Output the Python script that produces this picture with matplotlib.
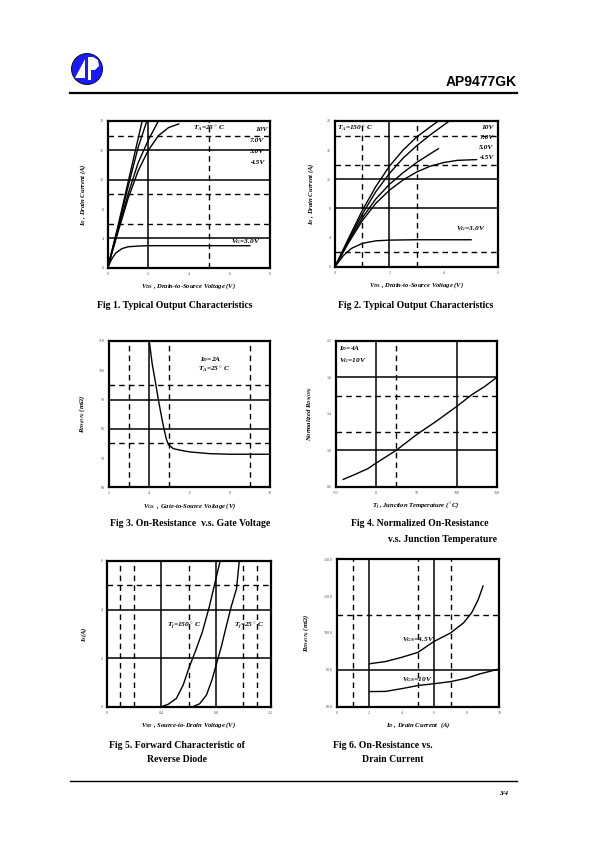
import numpy as np
import matplotlib.pyplot as plt
import matplotlib.patches as patches

plt.rcParams['font.family'] = 'Liberation Serif'
plt.rcParams['mathtext.fontset'] = 'custom'
plt.rcParams['mathtext.rm'] = 'Liberation Serif:bold:italic'
plt.rcParams['mathtext.it'] = 'Liberation Serif:bold:italic'
plt.rcParams['mathtext.bf'] = 'Liberation Serif:bold:italic'

# ---- data ----
# Fig 1, Tc=25C output characteristics
f1_vds_10 = [0, 0.5, 1.0, 1.5, 1.7]
f1_id_10 = [0, 5.6, 11.6, 17.6, 20]
f1_vds_7 = [0, 0.5, 1.0, 1.5, 1.93]
f1_id_7 = [0, 5.3, 11.0, 16.4, 20]
f1_vds_5 = [0, 0.5, 1.0, 1.5, 2.0, 2.5]
f1_id_5 = [0, 5.0, 10.0, 14.3, 17.4, 20]
f1_vds_45 = [0, 0.5, 1.0, 1.5, 2.0, 2.5, 3.0, 3.5]
f1_id_45 = [0, 4.8, 9.4, 13.2, 16.0, 18.0, 19.1, 19.6]
f1_vds_3 = [0, 0.2, 0.4, 0.7, 1.0, 1.5, 2.0, 4.0, 7.0]
f1_id_3 = [0, 1.2, 2.0, 2.6, 2.85, 2.95, 3.0, 3.0, 3.0]

# Fig 2, Tc=150C output characteristics
f2_vds_10 = [0, 0.5, 1.0, 1.5, 2.0, 2.5, 3.0, 3.5, 3.8]
f2_id_10 = [0, 3.9, 7.7, 11.0, 13.8, 16.0, 17.8, 19.2, 20]
f2_vds_7 = [0, 0.5, 1.0, 1.5, 2.0, 2.5, 3.0, 3.5, 4.2]
f2_id_7 = [0, 3.7, 7.2, 10.3, 12.8, 14.9, 16.6, 18.1, 20]
f2_vds_5 = [0, 0.5, 1.0, 1.5, 2.0, 2.5, 3.0, 3.5, 3.8]
f2_id_5 = [0, 3.5, 6.7, 9.3, 11.3, 12.9, 14.3, 15.5, 16.2]
f2_vds_45 = [0, 0.5, 1.0, 1.5, 2.0, 2.5, 3.0, 3.5, 4.0, 4.5, 5.2]
f2_id_45 = [0, 3.3, 6.3, 8.7, 10.5, 11.9, 13.0, 13.8, 14.3, 14.6, 14.7]
f2_vds_3 = [0, 0.3, 0.6, 1.0, 1.5, 2.0, 3.0, 5.0]
f2_id_3 = [0, 1.5, 2.5, 3.2, 3.55, 3.65, 3.7, 3.7]

# Fig 3, RDS(ON) vs VGS
f3_vgs = [4.0, 4.15, 4.33, 4.45, 4.6, 4.73, 4.85, 4.95, 5.2, 5.6, 6.0, 7.0, 8.0, 9.0, 10.0]
f3_rds = [110, 102, 95, 90, 84.5, 80, 76.5, 74.6, 73.2, 72.6, 72.1, 71.5, 71.3, 71.3, 71.3]

# Fig 4, normalized RDS(ON) vs Tj
f4_tj = [-41, -25, -10, 0, 25, 50, 75, 100, 119, 135, 150]
f4_rn = [0.68, 0.74, 0.80, 0.86, 1.0, 1.17, 1.32, 1.48, 1.61, 1.70, 1.80]

# Fig 5, body diode forward characteristic
f5_vsd_150 = [0.40, 0.45, 0.51, 0.56, 0.60, 0.65, 0.70, 0.75, 0.785, 0.83]
f5_is_150 = [0, 0.1, 0.34, 0.9, 1.57, 2.3, 3.08, 4.1, 4.93, 6.0]
f5_vsd_25 = [0.63, 0.68, 0.73, 0.77, 0.80, 0.84, 0.87, 0.91, 0.95, 0.97]
f5_is_25 = [0, 0.12, 0.48, 1.1, 1.7, 2.5, 3.2, 4.1, 4.86, 6.0]

# Fig 6, RDS(ON) vs ID
f6_id_45 = [2, 3, 4, 5, 6, 7, 7.8, 8.3, 8.7, 9.0]
f6_r_45 = [83.3, 84.5, 86.8, 89.5, 95.5, 100, 105.5, 111, 118, 125.5]
f6_id_10 = [2, 3, 4, 5, 6, 7, 8, 8.8, 10]
f6_r_10 = [68.2, 68.3, 69.8, 71.5, 72.5, 73.6, 75.5, 77.8, 80.5]

W, H = 595, 842
fig = plt.figure(figsize=(W / 100, H / 100), dpi=100)


def box(l, t, r, b):
    return fig.add_axes([l / W, 1 - b / H, (r - l) / W, (b - t) / H])


def setup(ax, xlim, ylim, xt, yt, xtl, ytl, solid_h, dash_h, solid_v, dash_v):
    ax.set_xlim(*xlim)
    ax.set_ylim(*ylim)
    ax.set_xticks(xt)
    ax.set_yticks(yt)
    ax.set_xticklabels(xtl)
    ax.set_yticklabels(ytl)
    ax.tick_params(length=0, labelsize=3, colors='#555555', pad=3)
    for s in ax.spines.values():
        s.set_linewidth(1.6)
    for v in solid_h:
        ax.axhline(v, color='black', lw=1.1)
    for v in dash_h:
        ax.axhline(v, color='black', lw=1.0, ls=(0, (4, 3)))
    for v in solid_v:
        ax.axvline(v, color='black', lw=1.1)
    for v in dash_v:
        ax.axvline(v, color='black', lw=1.0, ls=(0, (4, 3)))


tfont = dict(fontsize=5.3, fontweight='bold', fontstyle='italic')
lfont = dict(fontsize=4.8, fontweight='bold', fontstyle='italic')
cfont = dict(fontsize=7, fontweight='bold', ha='center', va='center')

# ---- Fig 1 ----
ax = box(107.7, 121, 270, 267.7)
setup(ax, (0, 8), (0, 20), [0, 2, 4, 6, 8], [0, 4, 8, 12, 16, 20],
      ['0', '2', '4', '6', '8'], ['0', '4', '8', '12', '16', '20'],
      [4, 12, 16], [6, 10, 18], [2], [5])
for x, y in [(f1_vds_10, f1_id_10), (f1_vds_7, f1_id_7), (f1_vds_5, f1_id_5),
             (f1_vds_45, f1_id_45), (f1_vds_3, f1_id_3)]:
    ax.plot(x, y, color='black', lw=1.0)
ax.text(4.2, 18.9, '$T_A$=25$^\\circ$ C', **tfont, va='center')
ax.text(7.3, 18.8, '10V', **tfont, va='center')
ax.text(7.0, 17.3, '7.0V', **tfont, va='center')
ax.text(7.0, 15.9, '5.0V', **tfont, va='center')
ax.text(7.0, 14.4, '4.5V', **tfont, va='center')
ax.text(6.1, 3.6, '$V_G$=3.0V', **tfont, va='center')
ax.set_xlabel('$V_{DS}$ , Drain-to-Source Voltage (V)', **lfont, labelpad=4)
ax.set_ylabel('$I_D$ , Drain Current (A)', **lfont, labelpad=8)

# ---- Fig 2 ----
ax = box(335, 121, 498.3, 266.7)
setup(ax, (0, 6), (0, 20), [0, 2, 4, 6], [0, 4, 8, 12, 16, 20],
      ['0', '2', '4', '6'], ['0', '4', '8', '12', '16', '20'],
      [8, 12], [2, 14, 18], [2], [1, 3])
for x, y in [(f2_vds_10, f2_id_10), (f2_vds_7, f2_id_7), (f2_vds_5, f2_id_5),
             (f2_vds_45, f2_id_45), (f2_vds_3, f2_id_3)]:
    ax.plot(x, y, color='black', lw=1.0)
ax.text(0.08, 18.9, '$T_A$=150$^\\circ$ C', **tfont, va='center')
ax.text(5.4, 19.1, '10V', **tfont, va='center')
ax.text(5.3, 17.7, '7.0V', **tfont, va='center')
ax.text(5.3, 16.3, '5.0V', **tfont, va='center')
ax.text(5.3, 15.0, '4.5V', **tfont, va='center')
ax.text(4.45, 5.3, '$V_G$=3.0V', **tfont, va='center')
ax.set_xlabel('$V_{DS}$ , Drain-to-Source Voltage (V)', **lfont, labelpad=4)
ax.set_ylabel('$I_D$ , Drain Current (A)', **lfont, labelpad=8)

fig.text(175 / W, 1 - 305 / H, 'Fig 1. Typical Output Characteristics', **cfont)
fig.text(416 / W, 1 - 305 / H, 'Fig 2. Typical Output Characteristics', **cfont)

# ---- Fig 3 ----
ax = box(109, 341, 270, 487.3)
setup(ax, (2, 10), (60, 110), [2, 4, 6, 8, 10], [60, 70, 80, 90, 100, 110],
      ['2', '4', '6', '8', '10'], ['60', '70', '80', '90', '100', '110'],
      [80, 90], [75, 95], [4], [3, 5, 9])
ax.plot(f3_vgs, f3_rds, color='black', lw=1.0)
ax.text(6.5, 103.7, '$I_D$=2A', **tfont, va='center')
ax.text(6.4, 100.2, '$T_A$=25$^\\circ$ C', **tfont, va='center')
ax.set_xlabel('$V_{GS}$  , Gate-to-Source Voltage (V)', **lfont, labelpad=4)
ax.set_ylabel('$R_{DS(ON)}$ (m$\\Omega$)', **lfont, labelpad=8)

# ---- Fig 4 ----
ax = box(336, 341, 496.7, 486.7)
setup(ax, (-50, 150), (0.6, 2.2), [-50, 0, 50, 100, 150], [0.6, 1.0, 1.4, 1.8, 2.2],
      ['-50', '0', '50', '100', '150'], ['0.6', '1.0', '1.4', '1.8', '2.2'],
      [1.0, 1.8], [1.2, 1.6], [0, 100], [25])
ax.plot(f4_tj, f4_rn, color='black', lw=1.0)
ax.text(-46, 2.115, '$I_D$=4A', **tfont, va='center')
ax.text(-46, 1.99, '$V_G$=10V', **tfont, va='center')
ax.set_xlabel('$T_j$ , Junction Temperature ($^\\circ$C)', **lfont, labelpad=4)
ax.set_ylabel('Normalized $R_{DS(ON)}$', **lfont, labelpad=8)

fig.text(420 / W, 1 - 524 / H, 'Fig 4. Normalized On-Resistance', **cfont)
fig.text(190 / W, 1 - 524 / H, 'Fig 3. On-Resistance  v.s. Gate Voltage', **cfont)
fig.text(442 / W, 1 - 540 / H, 'v.s. Junction Temperature', **cfont)

# ---- Fig 5 ----
ax = box(106.7, 561, 270.7, 706.7)
setup(ax, (0, 1.2), (0, 6), [0, 0.4, 0.8, 1.2], [0, 2, 4, 6],
      ['0', '0.4', '0.8', '1.2'], ['0', '2', '4', '6'],
      [2, 4], [5], [0.4, 0.8], [0.1, 0.2, 0.6, 1.0, 1.1])
ax.plot(f5_vsd_150, f5_is_150, color='black', lw=1.0)
ax.plot(f5_vsd_25, f5_is_25, color='black', lw=1.0)
ax.text(0.44, 3.3, '$T_j$=150$^\\circ$ C', **tfont, va='center')
ax.text(0.93, 3.3, '$T_j$=25$^\\circ$ C', **tfont, va='center')
ax.set_xlabel('$V_{SD}$ , Source-to-Drain Voltage (V)', **lfont, labelpad=4)
ax.set_ylabel('$I_S$(A)', **lfont, labelpad=8)

# ---- Fig 6 ----
ax = box(336.7, 559.3, 499.3, 706.7)
setup(ax, (0, 10), (60, 140), [0, 2, 4, 6, 8, 10], [60, 80, 100, 120, 140],
      ['0', '2', '4', '6', '8', '10'], ['60.0', '80.0', '100.0', '120.0', '140.0'],
      [80], [110], [2, 6], [1, 5, 7])
ax.plot(f6_id_45, f6_r_45, color='black', lw=1.0)
ax.plot(f6_id_10, f6_r_10, color='black', lw=1.0)
ax.text(4.0, 96.5, '$V_{GS}$=4.5V', **tfont, va='center')
ax.text(4.0, 74.5, '$V_{GS}$=10V', **tfont, va='center')
ax.set_xlabel('$I_D$ , Drain Current  (A)', **lfont, labelpad=4)
ax.set_ylabel('$R_{DS(ON)}$ (m$\\Omega$)', **lfont, labelpad=8)

fig.text(177 / W, 1 - 745 / H, 'Fig 5. Forward Characteristic of', **cfont)
fig.text(177 / W, 1 - 760 / H, 'Reverse Diode', **cfont)
fig.text(383 / W, 1 - 745 / H, 'Fig 6. On-Resistance vs.', **cfont)
fig.text(393 / W, 1 - 760 / H, 'Drain Current', **cfont)

# ---- page header / footer ----
page = fig.add_axes([0, 0, 1, 1])
page.set_xlim(0, W)
page.set_ylim(H, 0)
page.axis('off')
page.add_patch(patches.Circle((87, 69), 15.5, facecolor='#1a1aff', edgecolor='black', lw=0.6))
page.add_patch(patches.Polygon([(75, 78), (85, 59), (85, 78)], facecolor='white', lw=0))
page.add_patch(patches.Polygon([(88, 57), (93, 57), (98, 60), (99, 66), (95, 70), (91, 70), (91, 80), (88, 80)],
                               facecolor='white', lw=0))
page.plot([70, 517], [93, 93], color='black', lw=1.6)
page.text(517, 86, 'AP9477GK', fontsize=10, fontweight='bold', family='Liberation Sans', ha='right', va='baseline')
page.plot([70, 517], [781, 781], color='black', lw=1.0)
page.text(508, 795, '3/4', fontsize=5, fontweight='bold', fontstyle='italic', ha='right', va='baseline')

fig.savefig('out.png', dpi=100)
